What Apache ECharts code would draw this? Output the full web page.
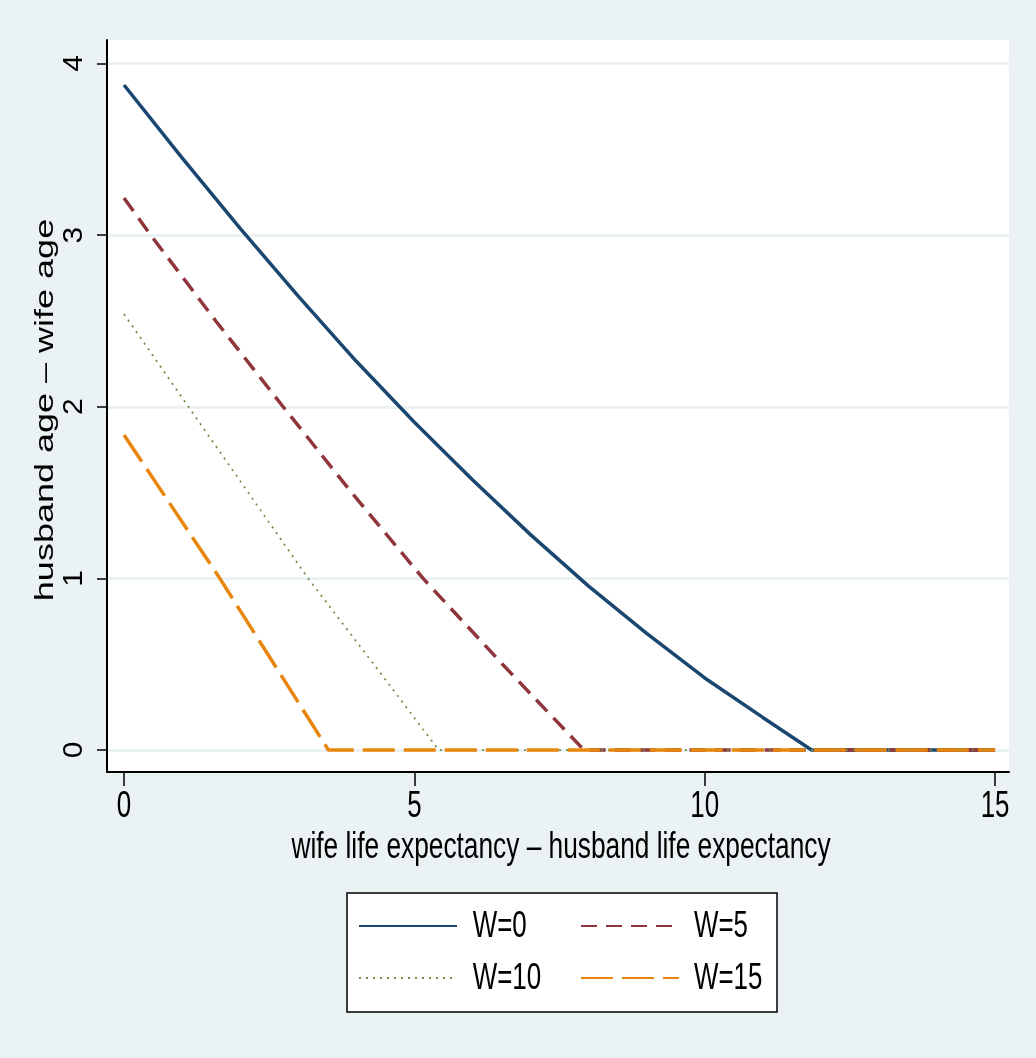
<!DOCTYPE html>
<html><head><meta charset="utf-8">
<script src="https://cdn.jsdelivr.net/npm/echarts@6/dist/echarts.min.js"></script>
<style>html,body{margin:0;padding:0;background:#eaf2f3;}#c{width:1036px;height:1058px;}</style>
</head><body><div id="c"></div>
<script>
const seriesNames = ['W=0', 'W=5', 'W=10', 'W=15'];
const xW0 = [0, 1, 2, 3, 4, 5, 6, 7, 8, 9, 10, 11, 11.84, 15];
const yW0 = [3.875, 3.45, 3.04, 2.645, 2.265, 1.91, 1.575, 1.255, 0.955, 0.68, 0.42, 0.19, 0, 0];
const xW5 = [0, 0.46, 1.58, 2.74, 3.92, 5.15, 6.53, 7.92, 15];
const yW5 = [3.217, 3, 2.5, 2, 1.5, 1, 0.495, 0, 0];
const xW10 = [0, 1.11, 2.14, 3.17, 4.3, 5.42, 15];
const yW10 = [2.54, 2, 1.5, 1, 0.5, 0, 0];
const xW15 = [0, 1.65, 3.52, 15];
const yW15 = [1.836, 1, 0, 0];
const xTicks = [0, 5, 10, 15];
const yTicks = [0, 1, 2, 3, 4];
const xTitle = 'wife life expectancy \u2013 husband life expectancy';
const yTitle = 'husband age \u2013 wife age';

const FONT = "'Liberation Sans', Arial, Helvetica, sans-serif";
const pairs = (xs, ys) => xs.map((x, i) => [x, ys[i]]);
const colors = ['#1a476f', '#90353b', '#6f8f4a', '#e8850c'];
const styles = [
  { width: 3.5, type: 'solid' },
  { width: 3.5, type: [16, 9] },
  { width: 1.8, type: [2, 5] },
  { width: 3.5, type: [32, 9] }
];
const xs = [xW0, xW5, xW10, xW15], ys = [yW0, yW5, yW10, yW15];

const series = seriesNames.map((n, i) => ({
  name: n, type: 'line', symbol: 'none', animation: false,
  data: pairs(xs[i], ys[i]),
  lineStyle: { color: colors[i], width: styles[i].width, type: styles[i].type, cap: 'butt' },
  itemStyle: { color: colors[i] },
  z: 2 + i
}));

const legendPos = [[358, 912], [580, 912], [358, 964], [580, 964]];
const legendTextPos = [[472.7, 926.7], [694, 926.7], [472.7, 978.4], [694, 978.4]];
const legends = seriesNames.map((n, i) => ({
  data: [n], left: legendPos[i][0], top: legendPos[i][1], padding: 0,
  itemWidth: 98, itemHeight: 28, itemGap: 0,
  formatter: () => '',
  itemStyle: { color: 'rgba(0,0,0,0)', borderWidth: 0, opacity: 0 },
  textStyle: { fontSize: 1, color: 'rgba(0,0,0,0)' },
  selectedMode: false
}));

const chart = echarts.init(document.getElementById('c'), null, { renderer: 'canvas' });
chart.setOption({
  backgroundColor: '#eaf2f3',
  animation: false,
  color: colors,
  textStyle: { fontFamily: FONT },
  grid: { left: 107, top: 40, width: 902, height: 732, show: true, backgroundColor: '#ffffff', borderWidth: 0 },
  xAxis: {
    type: 'value', min: -0.293, max: 15.24,
    axisLine: { onZero: false, lineStyle: { color: '#000', width: 2 } },
    axisTick: { customValues: xTicks, length: 14, lineStyle: { color: '#000', width: 1.5 } },
    axisLabel: { show: false, customValues: xTicks },
    splitLine: { show: false }
  },
  yAxis: {
    type: 'value', min: -0.128, max: 4.137,
    axisLine: { onZero: false, lineStyle: { color: '#000', width: 2 } },
    axisTick: { customValues: yTicks, length: 10, lineStyle: { color: '#000', width: 1.5 } },
    axisLabel: { show: false, customValues: yTicks },
    splitLine: { show: true, lineStyle: { color: '#eaf2f3', width: 3 } }
  },
  legend: legends,
  series: series
});

// Text drawn as graphic text (horizontally condensed like the reference), placed via the axes' own scales.
const SX = 0.7;
const texts = [];
xTicks.forEach(v => {
  const p = chart.convertToPixel({ gridIndex: 0 }, [v, 0]);
  texts.push({ type: 'text', x: p[0], y: 807, scaleX: SX, silent: true,
    style: { text: String(v), font: '37px ' + FONT, fill: '#000', align: 'center', verticalAlign: 'middle' } });
});
yTicks.forEach(v => {
  const p = chart.convertToPixel({ gridIndex: 0 }, [0, v]);
  texts.push({ type: 'text', x: 74, y: p[1], rotation: Math.PI / 2, scaleY: 0.92, silent: true,
    style: { text: String(v), font: '30px ' + FONT, fill: '#000', align: 'center', verticalAlign: 'middle' } });
});
const cx = (chart.convertToPixel({ gridIndex: 0 }, [-0.293, 0])[0] + chart.convertToPixel({ gridIndex: 0 }, [15.24, 0])[0]) / 2;
const cy = (chart.convertToPixel({ gridIndex: 0 }, [0, -0.128])[1] + chart.convertToPixel({ gridIndex: 0 }, [0, 4.137])[1]) / 2;
texts.push({ type: 'text', x: cx + 3, y: 848, scaleX: 0.73, silent: true,
  style: { text: xTitle, font: '36px ' + FONT, fill: '#000', align: 'center', verticalAlign: 'middle' } });
texts.push({ type: 'text', x: 46, y: cy + 4, rotation: Math.PI / 2, scaleY: 0.72, silent: true,
  style: { text: yTitle, font: '36px ' + FONT, fill: '#000', align: 'center', verticalAlign: 'middle' } });
seriesNames.forEach((n, i) => {
  texts.push({ type: 'text', x: legendTextPos[i][0], y: legendTextPos[i][1], scaleX: SX, silent: true, z: 10,
    style: { text: n, font: '37px ' + FONT, fill: '#000', align: 'left', verticalAlign: 'middle' } });
});

chart.setOption({
  graphic: [{
    type: 'rect', z: 0, silent: true,
    shape: { x: 347, y: 893, width: 430, height: 119 },
    style: { fill: '#ffffff', stroke: '#000', lineWidth: 1.5 }
  }].concat(texts)
});
</script></body></html>
